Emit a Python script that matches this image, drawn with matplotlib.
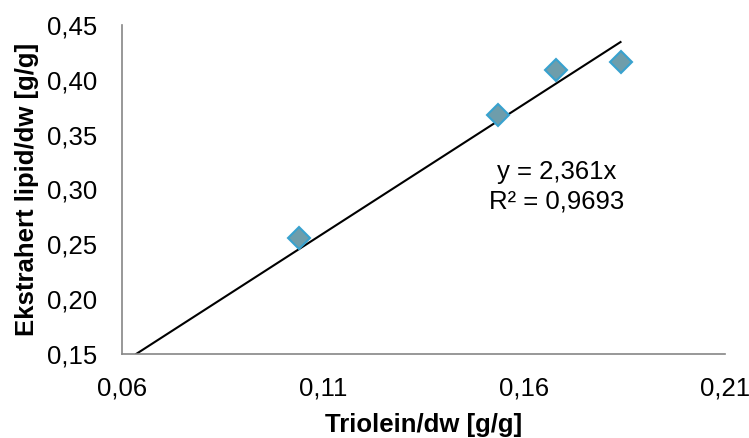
import matplotlib.pyplot as plt
import numpy as np

plt.rcParams['font.family'] = ['Liberation Sans', 'DejaVu Sans']

# Triolein vs extracted lipid, both per dry weight
triolein = [0.104, 0.1535, 0.168, 0.184]
lipid = [0.256, 0.368, 0.409, 0.416]
slope = 2.361
eq_text = 'y = 2,361x'
r2_text = 'R² = 0,9693'
xticks = [0.06, 0.11, 0.16, 0.21]
yticks = [0.15, 0.20, 0.25, 0.30, 0.35, 0.40, 0.45]

fs = 18.5

fig = plt.figure(figsize=(7.49, 4.38), dpi=100)
ax = fig.add_axes([0.163, 0.192, 0.805, 0.751])

# trendline through origin, clipped at bottom of y-range
x_line = np.array([0.15 / slope, max(triolein)])
ax.plot(x_line, slope * x_line, color='black', lw=1.5, zorder=2)

ax.plot(triolein, lipid, linestyle='none', marker='D', markersize=11,
        markerfacecolor='#6E9DAB', markeredgecolor='#38A2CF',
        markeredgewidth=1.5, zorder=3)

ax.text(0.168, 0.3096, eq_text, ha='center', va='baseline', fontsize=fs)
ax.text(0.168, 0.2822, r2_text, ha='center', va='baseline', fontsize=fs)

ax.set_xlim(0.06, 0.21)
ax.set_ylim(0.15, 0.45)
ax.set_xticks(xticks)
ax.set_yticks(yticks)
ax.set_xticklabels([f'{v:.2f}'.replace('.', ',') for v in xticks])
ax.set_yticklabels([f'{v:.2f}'.replace('.', ',') for v in yticks])
ax.tick_params(length=0, labelsize=fs)
ax.tick_params(axis='x', pad=16.5)
ax.tick_params(axis='y', pad=18)

for s in ['top', 'right']:
    ax.spines[s].set_visible(False)
for s in ['left', 'bottom']:
    ax.spines[s].set_color('#868686')
    ax.spines[s].set_linewidth(1.2)

ax.set_xlabel('Triolein/dw [g/g]', fontsize=fs, fontweight='bold', labelpad=9)
ax.set_ylabel('Ekstrahert lipid/dw [g/g]', fontsize=fs, fontweight='bold', labelpad=6)

fig.savefig('out.png', dpi=100)
